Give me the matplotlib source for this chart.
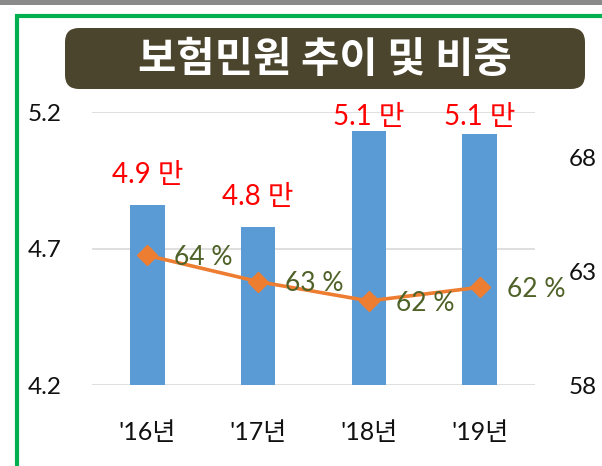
import matplotlib
matplotlib.use("Agg")
import matplotlib.pyplot as plt
from matplotlib.patches import Rectangle, FancyBboxPatch
from matplotlib.transforms import IdentityTransform

plt.rcParams['font.family'] = ['Lato', 'Noto Sans CJK KR', 'DejaVu Sans']

# ---- data ----
categories = ["'16년", "'17년", "'18년", "'19년"]
complaints = [4.86, 4.78, 5.13, 5.12]        # 만 건 (left axis)
share_pct = [63.7, 62.55, 61.7, 62.3]         # % (right axis)
left_ticks = [4.2, 4.7, 5.2]
right_ticks = [58, 63, 68]
title = "보험민원 추이 및 비중"

W, H = 602, 466
fig = plt.figure(figsize=(W / 100, H / 100), dpi=100)

def fx(px):
    return px / W

def fy(py):
    return 1 - py / H

# top gray strip
fig.patches.append(Rectangle((0, fy(4.5)), 1, 4.5 / H, transform=fig.transFigure,
                             facecolor='#8a8a8a', edgecolor='none', zorder=0))
# green frame
fig.patches.append(Rectangle((fx(17), fy(480)), fx(620), (480 - 15.5) / H,
                             transform=fig.transFigure, facecolor='none',
                             edgecolor='#00B050', linewidth=3.0, zorder=1))
# rounded title box drawn in pixel space
bx0, bx1, by0, by1 = 65, 585, 28, 89
box = FancyBboxPatch((bx0 + 14, H - by1 + 14), bx1 - bx0 - 28, by1 - by0 - 28,
                     boxstyle="round,pad=14,rounding_size=14",
                     transform=IdentityTransform(), facecolor='#4B452E',
                     edgecolor='none', zorder=3)
fig.patches.append(box)
fig.text(fx((bx0 + bx1) / 2), fy((by0 + by1) / 2 + 1), title, color='white',
         fontsize=30, fontweight='bold', ha='center', va='center',
         family=['Noto Sans CJK KR'], zorder=4)

# axes
ax = fig.add_axes([fx(92), fy(385), fx(535 - 92), (385 - 112.3) / H])
x = list(range(len(categories)))
ax.bar(x, complaints, width=0.31, color='#5B9BD5', zorder=2)
ax.set_xlim(-0.5, 3.5)
ax.set_ylim(4.2, 5.2)
ax.set_yticks(left_ticks)
ax.set_yticklabels([f"{v:.1f}" for v in left_ticks])
ax.set_xticks(x)
ax.set_xticklabels(categories)
ax.yaxis.grid(True, color='#D9D9D9', linewidth=1.2, zorder=0)
ax.set_axisbelow(True)
for s in ax.spines.values():
    s.set_visible(False)
ax.tick_params(axis='both', length=0, colors='#111111')
ax.tick_params(axis='y', labelsize=17.5, pad=0)
ax.tick_params(axis='x', labelsize=18, pad=26)
for lab in ax.get_yticklabels():
    lab.set_horizontalalignment('left')
    lab.set_x(-0.145)

label_offsets = [30, 30, 14, 17]
for xi, v, off in zip(x, complaints, label_offsets):
    ax.annotate(f"{v:.1f} 만", (xi, v), xytext=(0, off * 0.72), textcoords='offset points',
                ha='center', va='center', color='#FF0000', fontsize=20, zorder=5)

ax2 = ax.twinx()
ax2.plot(x, share_pct, color='#ED7D31', linewidth=2.6, marker='D', markersize=10,
         markerfacecolor='#ED7D31', markeredgecolor='#ED7D31', zorder=4)
ax2.set_ylim(58, 70)
ax2.set_yticks(right_ticks)
ax2.set_yticklabels([str(v) for v in right_ticks])
for s in ax2.spines.values():
    s.set_visible(False)
ax2.tick_params(axis='y', length=0, labelsize=17.5, colors='#111111', pad=24)
for xi, p in zip(x, share_pct):
    ax2.annotate(f"{p:.0f} %", (xi, p), xytext=(19.5, -1.5), textcoords='offset points',
                 ha='left', va='center', color='#4F6228', fontsize=19, zorder=5)

fig.savefig("out.png", dpi=100)
